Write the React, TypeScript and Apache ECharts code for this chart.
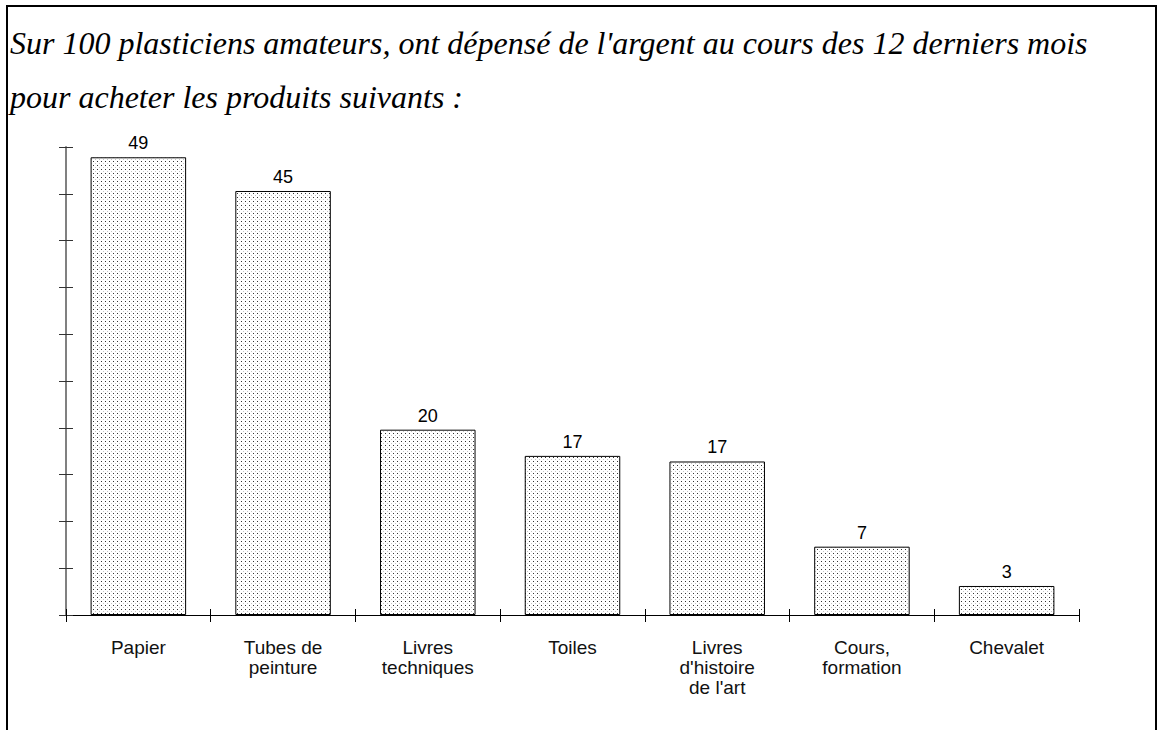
import React, { useEffect, useRef } from "react";
import * as echarts from "echarts";

const TITLE_LINES = [
  "Sur 100 plasticiens amateurs, ont dépensé de l'argent au cours des 12 derniers mois",
  "pour acheter les produits suivants :",
];
const CATEGORIES = [
  "Papier",
  "Tubes de\npeinture",
  "Livres\ntechniques",
  "Toiles",
  "Livres\nd'histoire\nde l'art",
  "Cours,\nformation",
  "Chevalet",
];
// bar heights as drawn, and the rounded labels printed above them
const VALUES = [48.9, 45.3, 19.8, 17.0, 16.4, 7.3, 3.1];
const LABELS = ["49", "45", "20", "17", "17", "7", "3"];
const Y_MIN = 0;
const Y_MAX = 50;
const Y_INTERVAL = 5;

function makePattern(): HTMLCanvasElement {
  const c = document.createElement("canvas");
  c.width = 4;
  c.height = 4;
  const ctx = c.getContext("2d")!;
  ctx.fillStyle = "#ffffff";
  ctx.fillRect(0, 0, 4, 4);
  ctx.fillStyle = "#333333";
  ctx.fillRect(1, 1, 1, 1);
  ctx.fillStyle = "#c4c4c4";
  ctx.fillRect(3, 3, 1, 1);
  return c;
}

export default function App() {
  const ref = useRef<HTMLDivElement>(null);
  useEffect(() => {
    if (!ref.current) return;
    const chart = echarts.init(ref.current, null, { renderer: "svg" });
    const pattern = makePattern();
    const sans = "Liberation Sans, Arial, sans-serif";
    const yBase = {
      type: "value",
      min: Y_MIN,
      max: Y_MAX,
      interval: Y_INTERVAL,
      position: "left",
      axisLabel: { show: false },
      splitLine: { show: false },
    };
    const xBase = {
      type: "category",
      data: CATEGORIES,
      position: "bottom",
      boundaryGap: true,
      splitLine: { show: false },
    };
    chart.setOption({
      animation: false,
      backgroundColor: "#ffffff",
      title: {
        text: TITLE_LINES.join("\n"),
        left: 10,
        top: 16,
        padding: 0,
        textStyle: {
          fontFamily: "Liberation Serif, Times New Roman, serif",
          fontStyle: "italic",
          fontWeight: "normal",
          fontSize: 32,
          lineHeight: 54,
          color: "#000000",
        },
      },
      graphic: [
        {
          type: "rect",
          shape: { x: 7, y: 6, width: 1149, height: 800 },
          style: { fill: "none", stroke: "#000000", lineWidth: 2 },
          silent: true,
        },
      ],
      grid: { left: 66, right: 78, top: 147, bottom: 115, containLabel: false },
      xAxis: [
        {
          ...xBase,
          axisLine: { show: true, lineStyle: { color: "#000000", width: 1 } },
          axisTick: { show: true, inside: false, length: 7, lineStyle: { color: "#000000" } },
          axisLabel: {
            show: true,
            interval: 0,
            margin: 22,
            fontFamily: sans,
            fontSize: 19,
            lineHeight: 20,
            color: "#111111",
          },
        },
        {
          ...xBase,
          axisLine: { show: false },
          axisTick: { show: true, inside: true, length: 6, lineStyle: { color: "#000000" } },
          axisLabel: { show: false },
        },
      ],
      yAxis: [
        {
          ...yBase,
          axisLine: { show: true, lineStyle: { color: "#808080", width: 2 } },
          axisTick: { show: true, inside: false, length: 7, lineStyle: { color: "#333333" } },
        },
        {
          ...yBase,
          axisLine: { show: false },
          axisTick: { show: true, inside: true, length: 7, lineStyle: { color: "#333333" } },
        },
      ],
      series: [
        {
          type: "bar",
          xAxisIndex: 0,
          yAxisIndex: 0,
          data: VALUES,
          barCategoryGap: "34%",
          itemStyle: {
            color: { image: pattern, repeat: "repeat" },
            borderColor: "#000000",
            borderWidth: 1,
          },
          label: {
            show: true,
            position: "top",
            distance: 5,
            fontFamily: sans,
            fontSize: 18,
            color: "#000000",
            formatter: (p: any) => LABELS[p.dataIndex],
          },
        },
      ],
    });
    return () => chart.dispose();
  }, []);
  return (
    <div
      ref={ref}
      style={{ position: "absolute", left: 0, top: 0, width: 1157, height: 730 }}
    />
  );
}
